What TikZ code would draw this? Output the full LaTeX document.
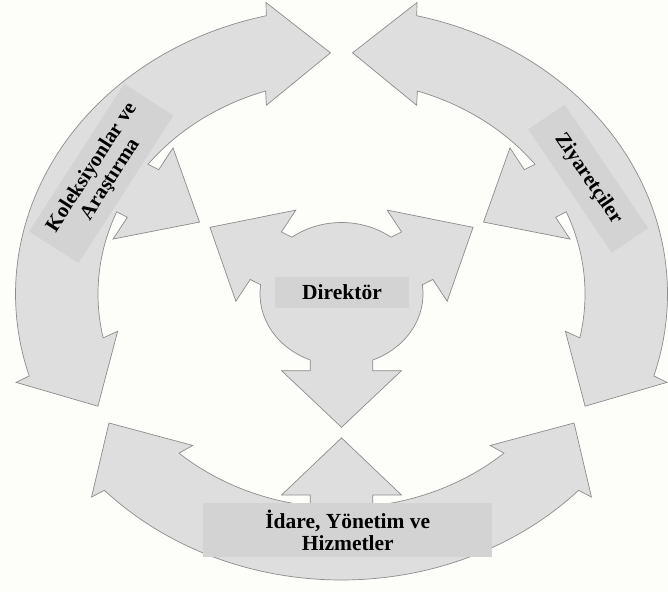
\documentclass[tikz,border=0pt]{standalone}
\usepackage{fontspec}
\setmainfont{Liberation Serif}
\definecolor{bgcol}{RGB}{253,253,250}
\definecolor{shapefill}{RGB}{222,222,222}
\definecolor{shapeline}{RGB}{140,140,140}
\definecolor{boxfill}{RGB}{211,211,211}
\tikzset{
  ringshape/.style={fill=shapefill, draw=shapeline, line width=0.7pt, line join=miter},
  labelbox/.style={fill=boxfill, inner sep=0pt, align=center},
  hfont/.style={font=\bfseries\fontsize{21.5}{22}\selectfont},
  rfont/.style={font=\bfseries\fontsize{20.8}{22}\selectfont},
}
\begin{document}
\begin{tikzpicture}[x=1pt,y=1pt]
\fill[bgcol] (0,0) rectangle (668,592);
\useasboundingbox (0,0) rectangle (668,592);
\begin{scope}[shift={(341.5,298)}, xscale=326, yscale=286]
  \foreach \m in {150,30,270} {
    \begin{scope}[rotate=\m]
      \draw[ringshape] (-46.65:1) arc[start angle=-46.65, end angle=46.65, radius=1]
        -- (47.2:1.045) -- (57.7:0.844) -- (40.75:0.699) -- (41.85:0.747)
        arc[start angle=41.85, end angle=7.38, radius=0.747]
        -- (7.78:0.7095) -- (14.67:0.7267) -- (0:0.503) -- (-14.67:0.7267) -- (-7.78:0.7095) -- (-7.38:0.747)
        arc[start angle=-7.38, end angle=-41.85, radius=0.747]
        -- (-40.75:0.699) -- (-57.7:0.844) -- (-47.2:1.045) -- cycle;
    \end{scope}
  }
  \draw[ringshape] (7.42:0.25)
    \foreach \t in {30,150,270} {
      -- (\t-19.71:0.2847) -- (\t-34.47:0.3251) -- (\t:0.466) -- (\t+34.47:0.3251) -- (\t+19.71:0.2847) -- (\t+22.58:0.25)
      arc[start angle=\t+22.58, end angle=\t+97.42, radius=0.25]
    } -- cycle;
\end{scope}
\node[labelbox, rfont, rotate=57.25, minimum width=175.6, minimum height=58.6] (kol) at (101.3,418.5) {Koleksiyonlar ve\\Araştırma};
\node[labelbox, rfont, rotate=-55.9, minimum width=148.9, minimum height=44] (ziy) at (588.2,413.25) {Ziyaretçiler};
\node[labelbox, hfont, minimum width=289, minimum height=53.4] (ida) at (347.8,62) {İdare, Yönetim ve\\Hizmetler};
\node[labelbox, hfont, minimum width=134, minimum height=31.6] (dir) at (342,299.5) {Direktör};
\end{tikzpicture}
\end{document}
